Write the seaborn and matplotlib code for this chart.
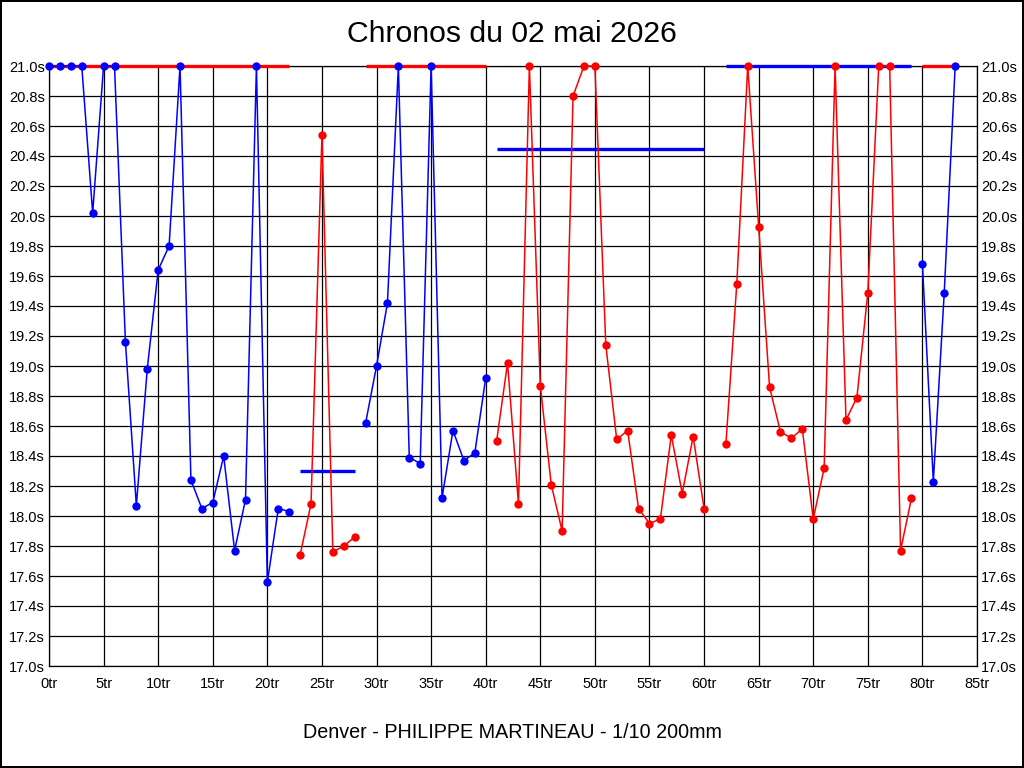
import matplotlib
matplotlib.use('Agg')
import matplotlib.pyplot as plt
import pandas as pd
import seaborn as sns
from matplotlib.ticker import FuncFormatter, MultipleLocator

# lap times (s), one list per run; values at 21.0 are capped at the top
run1_times = [21.0, 21.0, 21.0, 21.0, 20.02, 21.0, 21.0, 19.16, 18.07, 18.98,
              19.64, 19.80, 21.0, 18.24, 18.05, 18.09, 18.40, 17.77, 18.11,
              21.0, 17.56, 18.05, 18.03]
run2_times = [17.74, 18.08, 20.54, 17.76, 17.80, 17.86]
run3_times = [18.62, 19.00, 19.42, 21.0, 18.39, 18.35, 21.0, 18.12, 18.57,
              18.37, 18.42, 18.92]
run4_times = [18.50, 19.02, 18.08, 21.0, 18.87, 18.21, 17.90, 20.80, 21.0,
              21.0, 19.14, 18.51, 18.57, 18.05, 17.95, 17.98, 18.54, 18.15,
              18.53, 18.05]
run5_times = [18.48, 19.55, 21.0, 19.93, 18.86, 18.56, 18.52, 18.58, 17.98,
              18.32, 21.0, 18.64, 18.79, 19.49, 21.0, 21.0, 17.77, 18.12]
run6_times = [19.68, 18.23, 19.49, 21.0]

run_starts = [0, 23, 29, 41, 62, 80]
run_colors = ['blue', 'red', 'blue', 'red', 'red', 'blue']
avg_values = [21.0, 18.30, 21.0, 20.45, 21.0, 21.0]
avg_colors = ['red', 'blue', 'red', 'blue', 'blue', 'red']

title = 'Chronos du 02 mai 2026'
subtitle = 'Denver - PHILIPPE MARTINEAU - 1/10 200mm'

sns.set_theme(style='white')
plt.rcParams['font.family'] = ['Liberation Sans', 'DejaVu Sans']
plt.rcParams['text.color'] = 'black'

runs = [run1_times, run2_times, run3_times, run4_times, run5_times, run6_times]
frames = []
for i, (start, times) in enumerate(zip(run_starts, runs)):
    frames.append(pd.DataFrame({'lap': range(start, start + len(times)),
                                'time': times, 'run': i}))
data = pd.concat(frames, ignore_index=True)

fig = plt.figure(figsize=(10.24, 7.68), dpi=100)
fig.patch.set_facecolor('white')
fig.patch.set_edgecolor('black')
fig.patch.set_linewidth(1.5)
ax = fig.add_axes([49 / 1024, 102 / 768, 928 / 1024, 600 / 768])

for i, run in data.groupby('run'):
    # average line of the run (drawn over the top spine when capped)
    ax.hlines(avg_values[i], run['lap'].min(), run['lap'].max(),
              color=avg_colors[i], linewidth=2.4, zorder=2.7, clip_on=False)
    sns.lineplot(data=run, x='lap', y='time', color=run_colors[i], marker='o',
                 markersize=6, markeredgewidth=0, linewidth=1.1, ax=ax,
                 clip_on=False, zorder=3)

ax.set_xlim(0, 85)
ax.set_ylim(17.0, 21.0)
ax.xaxis.set_major_locator(MultipleLocator(5))
ax.yaxis.set_major_locator(MultipleLocator(0.2))
ax.xaxis.set_major_formatter(FuncFormatter(lambda v, p: f'{v:.0f}tr'))
ax.yaxis.set_major_formatter(FuncFormatter(lambda v, p: f'{v:.1f}s'))
ax.grid(True, color='black', linewidth=0.9)
ax.set_axisbelow(True)
for spine in ax.spines.values():
    spine.set_color('black')
    spine.set_linewidth(0.9)
ax.tick_params(axis='both', length=0, labelsize=10.5, colors='black')
ax.tick_params(axis='x', pad=8)
ax.tick_params(axis='y', pad=3, labelright=True)

ax.set_xlabel('')
ax.set_ylabel('')
fig.text(0.5, 1 - 34 / 768, title, ha='center', va='center', fontsize=21.7,
         color='black')
fig.text(0.5, 1 - 733 / 768, subtitle, ha='center', va='center',
         fontsize=14.2, color='black')

fig.savefig('out.png', dpi=100, facecolor=fig.get_facecolor(),
            edgecolor=fig.get_edgecolor())
